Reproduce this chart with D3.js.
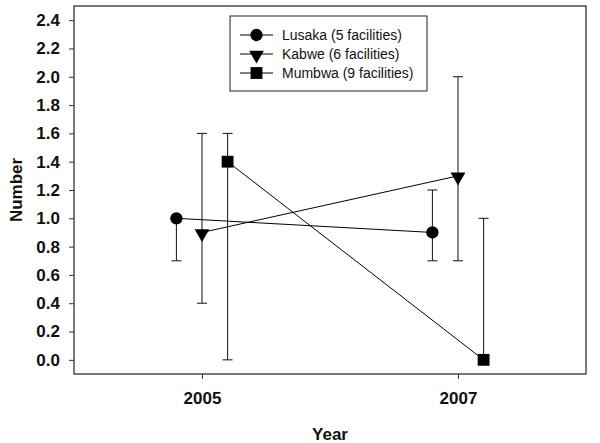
<!DOCTYPE html>
<html>
<head>
<meta charset="utf-8">
<script src="https://cdn.jsdelivr.net/npm/d3@7"></script>
<style>
  body { margin: 0; background: #fff; }
  svg { font-family: "Liberation Sans", Arial, sans-serif; }
</style>
</head>
<body>
<div id="chart"></div>
<script>
const years = [2005, 2007];
const yTicks = [0, 0.2, 0.4, 0.6, 0.8, 1.0, 1.2, 1.4, 1.6, 1.8, 2.0, 2.2, 2.4];

const lusakaValues = [1.0, 0.9];
const lusakaLow = [0.7, 0.7];
const lusakaHigh = [1.0, 1.2];

const kabweValues = [0.9, 1.3];
const kabweLow = [0.4, 0.7];
const kabweHigh = [1.6, 2.0];

const mumbwaValues = [1.4, 0.0];
const mumbwaLow = [0.0, 0.0];
const mumbwaHigh = [1.6, 1.0];

const series = [
  { name: "Lusaka (5 facilities)", shift: -0.2, symbol: "circle", values: lusakaValues, low: lusakaLow, high: lusakaHigh },
  { name: "Kabwe (6 facilities)", shift: 0, symbol: "triangle", values: kabweValues, low: kabweLow, high: kabweHigh },
  { name: "Mumbwa (9 facilities)", shift: 0.2, symbol: "square", values: mumbwaValues, low: mumbwaLow, high: mumbwaHigh }
];

const width = 600, height = 443;
const margin = { top: 6, right: 14, bottom: 69, left: 74 };

const svg = d3.select("#chart").append("svg")
  .attr("width", width)
  .attr("height", height);

const x = d3.scaleLinear()
  .domain([2004, 2008])
  .range([margin.left, width - margin.right]);

const y = d3.scaleLinear()
  .domain([-0.1, 2.5])
  .range([height - margin.bottom, margin.top]);

// axes
const gy = svg.append("g")
  .attr("transform", `translate(${margin.left},0)`)
  .call(d3.axisLeft(y).tickValues(yTicks).tickFormat(d3.format(".1f")).tickSize(5).tickPadding(9));
gy.select(".domain").remove();
gy.selectAll("line").attr("stroke", "#333");
gy.selectAll("text").attr("font-size", 17).attr("font-weight", "bold").attr("fill", "#111");

const gx = svg.append("g")
  .attr("transform", `translate(0,${height - margin.bottom})`)
  .call(d3.axisBottom(x).tickValues(years).tickFormat(d3.format("d")).tickSize(5).tickPadding(13));
gx.select(".domain").remove();
gx.selectAll("line").attr("stroke", "#333");
gx.selectAll("text").attr("font-size", 17).attr("font-weight", "bold").attr("fill", "#111");

// frame
svg.append("rect")
  .attr("x", margin.left)
  .attr("y", margin.top)
  .attr("width", width - margin.left - margin.right)
  .attr("height", height - margin.top - margin.bottom)
  .attr("fill", "none")
  .attr("stroke", "#333")
  .attr("stroke-width", 1.3);

// axis titles
svg.append("text")
  .attr("transform", `translate(22,${(margin.top + height - margin.bottom) / 2}) rotate(-90)`)
  .attr("text-anchor", "middle")
  .attr("font-size", 17)
  .attr("font-weight", "bold")
  .attr("fill", "#111")
  .text("Number");

svg.append("text")
  .attr("x", (margin.left + width - margin.right) / 2)
  .attr("y", 440)
  .attr("text-anchor", "middle")
  .attr("font-size", 17)
  .attr("font-weight", "bold")
  .attr("fill", "#111")
  .text("Year");

const symbolType = { circle: d3.symbolCircle, triangle: d3.symbolTriangle, square: d3.symbolSquare };
const symbolSize = { circle: 120, triangle: 95, square: 140 };

function drawSymbol(g, type, cx, cy) {
  const p = g.append("path")
    .attr("d", d3.symbol().type(symbolType[type]).size(symbolSize[type])())
    .attr("fill", "#000");
  if (type === "triangle") p.attr("transform", `translate(${cx},${cy + 1}) rotate(180)`);
  else p.attr("transform", `translate(${cx},${cy})`);
}

const cap = 5;
series.forEach(s => {
  const g = svg.append("g");
  const pts = years.map((yr, i) => ({ xv: yr + s.shift, v: s.values[i], lo: s.low[i], hi: s.high[i] }));

  // error bars
  pts.forEach(p => {
    const px = x(p.xv);
    g.append("line")
      .attr("x1", px).attr("x2", px)
      .attr("y1", y(p.lo)).attr("y2", y(p.hi))
      .attr("stroke", "#111").attr("stroke-width", 1);
    [p.lo, p.hi].forEach(e => {
      if (e !== p.v) {
        g.append("line")
          .attr("x1", px - cap).attr("x2", px + cap)
          .attr("y1", y(e)).attr("y2", y(e))
          .attr("stroke", "#111").attr("stroke-width", 1);
      }
    });
  });

  g.append("path")
    .datum(pts)
    .attr("fill", "none")
    .attr("stroke", "#000")
    .attr("stroke-width", 1)
    .attr("d", d3.line().x(d => x(d.xv)).y(d => y(d.v)));

  pts.forEach(p => drawSymbol(g, s.symbol, x(p.xv), y(p.v)));
});

// legend
const legend = svg.append("g");
legend.append("rect")
  .attr("x", 230).attr("y", 16)
  .attr("width", 197).attr("height", 75)
  .attr("fill", "#fff")
  .attr("stroke", "#222")
  .attr("stroke-width", 1);

series.forEach((s, i) => {
  const ly = 35 + i * 19;
  legend.append("line")
    .attr("x1", 240).attr("x2", 273)
    .attr("y1", ly).attr("y2", ly)
    .attr("stroke", "#000");
  drawSymbol(legend, s.symbol, 256.5, ly);
  legend.append("text")
    .attr("x", 282)
    .attr("y", ly + 5)
    .attr("font-size", 14)
    .attr("fill", "#111")
    .text(s.name);
});
</script>
</body>
</html>
